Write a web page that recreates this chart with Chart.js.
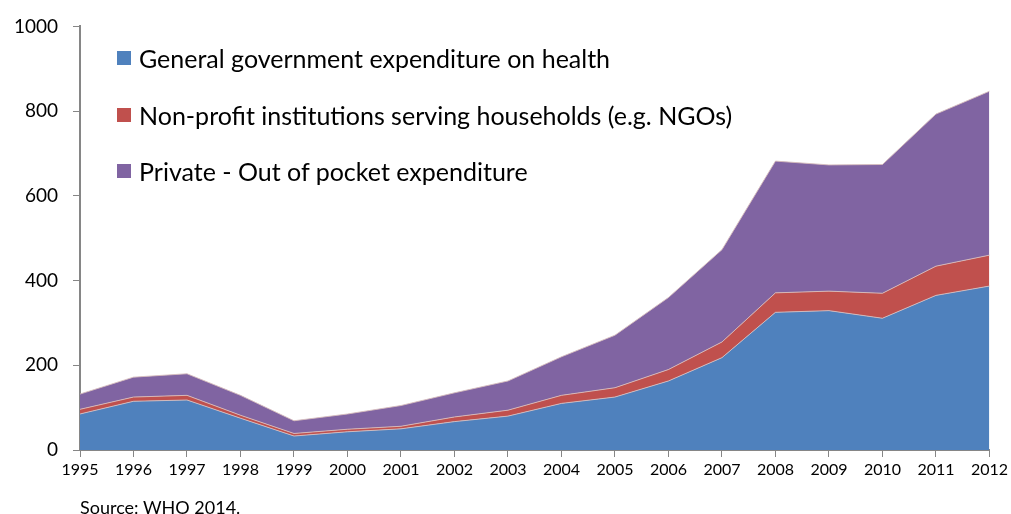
<!DOCTYPE html>
<html>
<head>
<meta charset="utf-8">
<script src="https://cdn.jsdelivr.net/npm/chart.js@4"></script>
<style>
  body { margin: 0; background: #fff; font-family: Lato, "Open Sans", sans-serif; }
  #wrap { position: relative; width: 1011px; height: 514px; }
  #legend { position: absolute; left: 117px; top: 30px; }
  .item { display: flex; align-items: center; height: 56.5px; font-size: 25px; color: #000; white-space: nowrap; }
  .swatch { width: 14px; height: 14px; margin-right: 8px; }
  #source { position: absolute; left: 80px; top: 496px; font-size: 18px; color: #000; }
</style>
</head>
<body>
<div id="wrap">
  <canvas id="chart" width="1011" height="514"></canvas>
  <div id="legend"></div>
  <div id="source">Source: WHO 2014.</div>
</div>
<script>
// Data
const years = ['1995', '1996', '1997', '1998', '1999', '2000', '2001', '2002', '2003',
    '2004', '2005', '2006', '2007', '2008', '2009', '2010', '2011', '2012'];
const government = [85, 115, 118, 75, 33, 43, 50, 67, 80, 110, 125, 163, 218, 325, 329, 311, 365, 387];
const nonProfit = [11, 10, 11, 7, 6, 6, 6, 11, 14, 19, 22, 27, 37, 46, 46, 59, 69, 73];
const outOfPocket = [36, 47, 51, 47, 30, 36, 49, 57, 69, 91, 124, 170, 218, 311, 298, 304, 359, 387];
const yTicks = [0, 200, 400, 600, 800, 1000];

const seriesNames = [
    'General government expenditure on health',
    'Non-profit institutions serving households (e.g. NGOs)',
    'Private - Out of pocket expenditure'
];
const seriesColors = ['#4F81BD', '#C0504D', '#8064A2'];
const seriesData = [government, nonProfit, outOfPocket];

const axisColor = '#868686';

const datasets = seriesData.map((values, i) => ({
    label: seriesNames[i],
    data: values,
    backgroundColor: seriesColors[i],
    borderColor: 'rgba(215, 190, 190, 0.9)',
    borderWidth: 1,
    pointRadius: 0,
    tension: 0,
    fill: i === 0 ? 'origin' : '-1'
}));

new Chart(document.getElementById('chart'), {
    type: 'line',
    data: { labels: years, datasets: datasets },
    options: {
        responsive: false,
        animation: false,
        layout: { padding: { left: 0, right: 21, top: 25, bottom: 0 } },
        plugins: { legend: { display: false }, tooltip: { enabled: false } },
        scales: {
            x: {
                offset: false,
                grid: { display: true, drawOnChartArea: false, drawTicks: true, tickLength: 7, color: axisColor },
                border: { display: true, color: axisColor, width: 2 },
                ticks: { color: '#000', font: { family: 'Lato', size: 16 }, padding: 3, maxRotation: 0, autoSkip: false },
                afterFit: axis => { axis.height = 64; }
            },
            y: {
                stacked: true,
                min: 0,
                max: 1000,
                afterBuildTicks: axis => { axis.ticks = yTicks.map(v => ({ value: v })); },
                grid: { display: true, drawOnChartArea: false, drawTicks: true, tickLength: 7, color: axisColor },
                border: { display: true, color: axisColor, width: 2 },
                ticks: { color: '#000', font: { family: 'Lato', size: 19 }, padding: 15, callback: v => String(v) },
                afterFit: axis => { axis.width = 80; }
            }
        }
    }
});

// Legend drawn inside the plot area, like the original
const legend = document.getElementById('legend');
legend.innerHTML = seriesNames.map((name, i) => `
    <div class="item"><span class="swatch" style="background:${seriesColors[i]}"></span>${name}</div>
`).join('');
</script>
</body>
</html>
